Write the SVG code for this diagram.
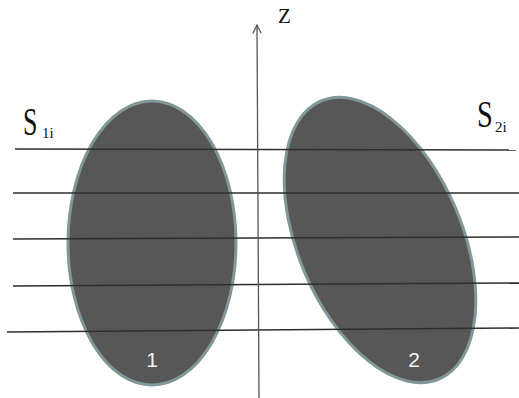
<svg xmlns="http://www.w3.org/2000/svg" width="519" height="398" viewBox="0 0 519 398">
<defs>
<style>
.blob{fill:#575757;stroke:#82979a;stroke-width:3}
.num{font-family:"Liberation Sans",Arial,sans-serif;font-size:21px;fill:#f2f2f2;text-anchor:middle}
.sec{stroke:#2e2e2e;stroke-width:1.6;fill:none}
.axis{stroke:#555;stroke-width:1.3;fill:none}
.lbl{font-family:"Liberation Serif","Times New Roman",serif;fill:#111}
</style>
<marker id="arr" viewBox="0 0 12 12" refX="11" refY="6" markerWidth="10" markerHeight="10" markerUnits="userSpaceOnUse" orient="auto">
<path d="M1,1 L11,6 L1,11" fill="none" stroke="#555" stroke-width="1.5"/>
</marker>
</defs>
<rect width="519" height="398" fill="#fff"/>
<g id="body1">
<ellipse class="blob" cx="152" cy="243" rx="84" ry="142"/>
<text class="num" x="152" y="367">1</text>
</g>
<g id="body2">
<ellipse class="blob" cx="380" cy="240" rx="82" ry="151" transform="rotate(-23 380 240)"/>
<text class="num" x="414" y="367">2</text>
</g>
<g id="connectors">
<line class="sec" x1="15" y1="149" x2="516" y2="150"/>
<line class="sec" x1="13" y1="193" x2="519" y2="193"/>
<line class="sec" x1="13" y1="239" x2="519" y2="237"/>
<line class="sec" x1="13" y1="286" x2="519" y2="283"/>
<line class="sec" x1="7" y1="332" x2="519" y2="328"/>
<line class="axis" x1="259" y1="398" x2="257" y2="25" marker-end="url(#arr)"/>
</g>
<g id="labels">
<text class="lbl" x="278" y="23" font-size="21">Z</text>
<text class="lbl" font-size="26" transform="translate(23 135) scale(1 1.5)">S</text>
<text class="lbl" x="42" y="138" font-size="15">1i</text>
<text class="lbl" font-size="27" transform="translate(477 127) scale(1.05 1.4)">S</text>
<text class="lbl" x="495" y="132" font-size="15">2i</text>
</g>
</svg>
